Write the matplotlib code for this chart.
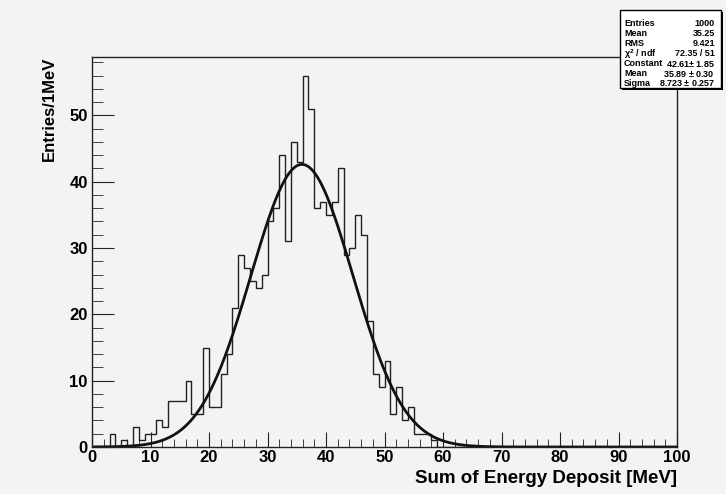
import numpy as np
import matplotlib
matplotlib.use("Agg")
import matplotlib.pyplot as plt
from matplotlib.patches import Rectangle
from matplotlib.ticker import MultipleLocator

# energy sum histogram, 1 MeV bins from 0 to 100
bin_edges = np.arange(0, 101, 1)
counts = [
    0, 0, 0, 2, 0, 1, 0, 3, 1, 2,
    2, 4, 3, 7, 7, 7, 10, 5, 5, 15,
    6, 6, 11, 14, 21, 29, 27, 25, 24, 26,
    34, 36, 44, 31, 46, 43, 56, 51, 36, 37,
    35, 37, 42, 29, 30, 35, 32, 19, 11, 9,
    13, 5, 9, 4, 6, 2, 2, 2, 1, 0,
] + [0] * 40

# gaussian fit result
fit_const = 42.61
fit_mean = 35.89
fit_sigma = 8.723

stat_names = ["Entries", "Mean", "RMS", r"$\chi^{2}$ / ndf", "Constant", "Mean", "Sigma"]
stat_values = ["1000", "35.25", "9.421", "72.35 / 51",
               "42.61$\\pm$ 1.85", "35.89 $\\pm$ 0.30", "8.723 $\\pm$ 0.257"]

BG = "#f3f3f3"
plt.rcParams["font.family"] = ["Liberation Sans", "DejaVu Sans"]
plt.rcParams["font.weight"] = "bold"
plt.rcParams["mathtext.fontset"] = "custom"
plt.rcParams["mathtext.rm"] = "Liberation Sans:bold"
plt.rcParams["mathtext.it"] = "Liberation Sans:bold"
plt.rcParams["mathtext.bf"] = "Liberation Sans:bold"

W, H = 726, 494
fig = plt.figure(figsize=(W / 100, H / 100), dpi=100)
fig.patch.set_facecolor(BG)

# frame in pixel coordinates
x0, x1, y0, y1 = 92, 677, 447, 57
ax = fig.add_axes([x0 / W, 1 - y0 / H, (x1 - x0) / W, (y0 - y1) / H])
ax.set_facecolor(BG)

ax.stairs(counts, bin_edges, color="#222222", linewidth=1.0)

xf = np.linspace(0, 100, 600)
yf = fit_const * np.exp(-0.5 * ((xf - fit_mean) / fit_sigma) ** 2)
ax.plot(xf, yf, color="#111111", linewidth=2.0)

ax.set_xlim(0, 100)
ax.set_ylim(0, max(counts) * 1.05)

ax.xaxis.set_major_locator(MultipleLocator(10))
ax.xaxis.set_minor_locator(MultipleLocator(2))
ax.yaxis.set_major_locator(MultipleLocator(10))
ax.yaxis.set_minor_locator(MultipleLocator(2))
ax.tick_params(axis="both", which="both", direction="in", color="#222222",
               top=False, right=False, labelsize=12)
ax.tick_params(axis="x", which="major", length=11, pad=2)
ax.tick_params(axis="x", which="minor", length=5.5)
ax.tick_params(axis="y", which="major", length=16, pad=3)
ax.tick_params(axis="y", which="minor", length=8)
for lab in ax.get_xticklabels() + ax.get_yticklabels():
    lab.set_fontweight("bold")
for sp in ax.spines.values():
    sp.set_color("#222222")
    sp.set_linewidth(1.0)

ax.set_xlabel("Sum of Energy Deposit [MeV]", fontsize=13.5, fontweight="bold",
              loc="right", labelpad=4)
ax.set_ylabel("Entries/1MeV", fontsize=12, fontweight="bold",
              loc="top", labelpad=9)

# statistics box with drop shadow
bx0, bx1, by0, by1 = 620, 721, 88, 10
sh = 2
fig.patches.append(Rectangle(((bx0 + sh) / W, 1 - (by0 + sh) / H),
                             (bx1 - bx0) / W, (by0 - by1) / H,
                             transform=fig.transFigure, facecolor="black",
                             edgecolor="none", zorder=5))
fig.patches.append(Rectangle((bx0 / W, 1 - by0 / H),
                             (bx1 - bx0) / W, (by0 - by1) / H,
                             transform=fig.transFigure, facecolor="white",
                             edgecolor="black", linewidth=1.0, zorder=6))
row_y = np.linspace(24, 83.5, len(stat_names))
for name, val, ry in zip(stat_names, stat_values, row_y):
    fig.text((bx0 + 4) / W, 1 - ry / H, name, fontsize=6.5, fontweight="bold",
             ha="left", va="center", zorder=7)
    fig.text((bx1 - 6) / W, 1 - ry / H, val, fontsize=6.5, fontweight="bold",
             ha="right", va="center", zorder=7)

fig.savefig("out.png", dpi=100, facecolor=BG)
